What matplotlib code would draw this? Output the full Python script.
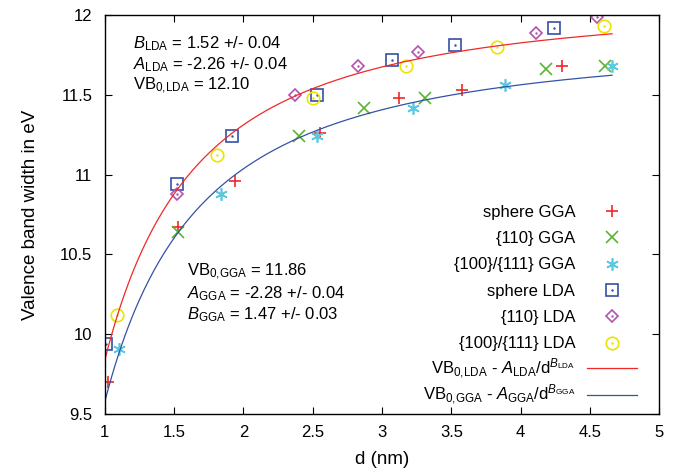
import numpy as np
import matplotlib
matplotlib.use("Agg")
import matplotlib.pyplot as plt

plt.rcParams["font.family"] = ["Liberation Sans", "DejaVu Sans"]
plt.rcParams["mathtext.fontset"] = "custom"
plt.rcParams["mathtext.rm"] = "Liberation Sans"
plt.rcParams["mathtext.it"] = "Liberation Sans:italic"
plt.rcParams["mathtext.bf"] = "Liberation Sans:bold"

# data
d_sph_gga = [1.02, 1.53, 1.94, 2.55, 3.12, 3.58, 4.30]
vb_sph_gga = [9.70, 10.67, 10.96, 11.26, 11.48, 11.53, 11.68]

d_110_gga = [1.53, 2.40, 2.87, 3.31, 4.18, 4.61]
vb_110_gga = [10.64, 11.24, 11.42, 11.48, 11.66, 11.68]

d_100_gga = [1.10, 1.84, 2.53, 3.22, 3.89, 4.66]
vb_100_gga = [9.91, 10.88, 11.24, 11.42, 11.56, 11.68]

d_sph_lda = [1.01, 1.52, 1.92, 2.53, 3.07, 3.53, 4.24]
vb_sph_lda = [9.94, 10.94, 11.24, 11.50, 11.72, 11.81, 11.92]

d_110_lda = [1.52, 2.37, 2.83, 3.26, 4.11, 4.55]
vb_110_lda = [10.88, 11.50, 11.68, 11.77, 11.89, 11.99]

d_100_lda = [1.09, 1.81, 2.50, 3.17, 3.83, 4.60]
vb_100_lda = [10.12, 11.12, 11.48, 11.68, 11.80, 11.93]

# fit parameters (as printed on the chart)
vb0_lda, a_lda, b_lda = 12.10, -2.26, 1.52
vb0_gga, a_gga, b_gga = 11.86, -2.28, 1.47

fig = plt.figure(figsize=(6.81, 4.68), dpi=100)
ax = fig.add_axes([0.154, 0.115, 0.814, 0.853])

red = "#f02828"
green = "#5ab432"
cyan = "#5cc8e0"
blue = "#3452a4"
purple = "#b452b0"
yellow = "#ece400"

ms = 8.6
h1, = ax.plot(d_sph_gga, vb_sph_gga, "+", color=red, ms=ms, mew=1.2, ls="none")
h2, = ax.plot(d_110_gga, vb_110_gga, "x", color=green, ms=ms - 0.6, mew=1.2, ls="none")
h3, = ax.plot(d_100_gga, vb_100_gga, marker=(6, 2, 0), color=cyan, ms=ms + 0.4, mew=1.2, ls="none")

h4a, = ax.plot(d_sph_lda, vb_sph_lda, "s", mfc="none", mec=blue, ms=ms, mew=1.2, ls="none")
h4b, = ax.plot(d_sph_lda, vb_sph_lda, ".", color=blue, ms=1.5, ls="none")
h5a, = ax.plot(d_110_lda, vb_110_lda, "D", mfc="none", mec=purple, ms=ms - 2, mew=1.2, ls="none")
h5b, = ax.plot(d_110_lda, vb_110_lda, ".", color=purple, ms=1.5, ls="none")
h6a, = ax.plot(d_100_lda, vb_100_lda, "o", mfc="none", mec=yellow, ms=ms + 0.4, mew=1.2, ls="none")
h6b, = ax.plot(d_100_lda, vb_100_lda, ".", color=yellow, ms=1.5, ls="none")

d = np.linspace(1.0, 4.66, 300)
h7, = ax.plot(d, vb0_lda + a_lda / d**b_lda, color=red, lw=0.9)
h8, = ax.plot(d, vb0_gga + a_gga / d**b_gga, color=blue, lw=0.9)

ax.set_xlim(1, 5)
ax.set_ylim(9.5, 12)
ax.set_xticks([1, 1.5, 2, 2.5, 3, 3.5, 4, 4.5, 5])
ax.set_xticklabels(["1", "1.5", "2", "2.5", "3", "3.5", "4", "4.5", "5"])
ax.set_yticks([9.5, 10, 10.5, 11, 11.5, 12])
ax.set_yticklabels(["9.5", "10", "10.5", "11", "11.5", "12"])
ax.tick_params(direction="in", top=True, right=True, length=5, width=0.8, labelsize=12)
ax.tick_params(axis="x", pad=8)
ax.tick_params(axis="y", pad=9)
for s in ax.spines.values():
    s.set_linewidth(1.0)
ax.set_xlabel("d (nm)", fontsize=13.5, labelpad=8)
ax.set_ylabel("Valence band width in eV", fontsize=13.5, labelpad=15)

ax.text(0.05, 0.952, r"$B_{\mathrm{LDA}}$ = 1.52 +/- 0.04" "\n"
        r"$A_{\mathrm{LDA}}$ = -2.26 +/- 0.04" "\n"
        r"VB$_{0,\!\mathrm{LDA}}$ = 12.10",
        transform=ax.transAxes, va="top", ha="left", fontsize=12, linespacing=1.15)
ax.text(0.148, 0.382, r"VB$_{0,\!\mathrm{GGA}}$ = 11.86" "\n"
        r"$A_{\mathrm{GGA}}$ = -2.28 +/- 0.04" "\n"
        r"$B_{\mathrm{GGA}}$ = 1.47 +/- 0.03",
        transform=ax.transAxes, va="top", ha="left", fontsize=12, linespacing=1.15)

leg_kw = dict(markerfirst=False, frameon=False, fontsize=12,
              handlelength=3.0, handletextpad=0.7, borderpad=0, borderaxespad=0)
handles1 = [h1, h2, h3, (h4a, h4b), (h5a, h5b), (h6a, h6b)]
labels1 = ["sphere GGA", "{110} GGA", "{100}/{111} GGA", "sphere LDA",
           "{110} LDA", "{100}/{111} LDA"]
leg1 = ax.legend(handles1, labels1, loc="upper right", bbox_to_anchor=(0.96, 0.5245),
                 labelspacing=0.68, **leg_kw)
ax.add_artist(leg1)

handles2 = [h7, h8]
labels2 = [r"VB$_{0,\!\mathrm{LDA}}$ - $A_{\mathrm{LDA}}$/d$^{B_{\mathrm{LDA}}}$",
           r"VB$_{0,\!\mathrm{GGA}}$ - $A_{\mathrm{GGA}}$/d$^{B_{\mathrm{GGA}}}$"]
ax.legend(handles2, labels2, loc="lower right", bbox_to_anchor=(0.96, 0.017),
          labelspacing=0.15, **leg_kw)

fig.savefig("out.png", dpi=100)
